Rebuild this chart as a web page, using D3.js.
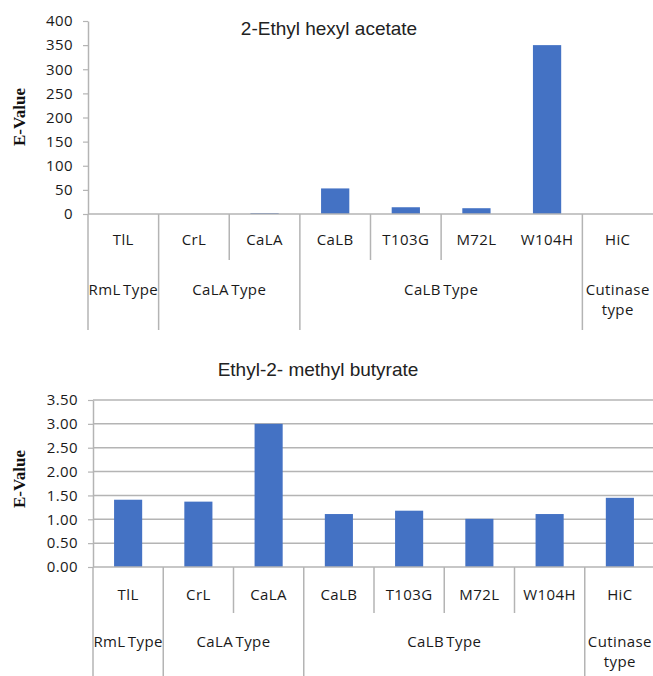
<!DOCTYPE html>
<html>
<head>
<meta charset="utf-8">
<script src="https://cdn.jsdelivr.net/npm/d3@7"></script>
<style>
  body { margin: 0; background: #fff; }
</style>
</head>
<body>
<div id="canvas"></div>
<script>
"use strict"

/* Data */
let enzymes = ["TlL", "CrL", "CaLA", "CaLB", "T103G", "M72L", "W104H", "HiC"];
let enzymeTypes = ["RmL Type", "CaLA Type", "CaLA Type", "CaLB Type",
                   "CaLB Type", "CaLB Type", "CaLB Type", "Cutinase type"];

let hexylAcetateE = [0, 0, 2, 53, 14, 12, 350, 0];
let methylButyrateE = [1.41, 1.37, 3.00, 1.11, 1.18, 1.01, 1.11, 1.45];

let hexylTicks = [0, 50, 100, 150, 200, 250, 300, 350, 400];
let butyrateTicks = [0, 0.5, 1.0, 1.5, 2.0, 2.5, 3.0, 3.5];

/* Drawing configuration */
let svgWidth = 653;
let svgHeight = 676;
let barColor = "#4472c4";
let lineColor = "#b4b4b4";
let labelFont = "'Open Sans', 'Noto Sans', sans-serif";
let labelSize = "15px";
let labelSpacing = "0.4px";

let svg = d3.select("#canvas")
  .append("svg")
  .attr("width", svgWidth)
  .attr("height", svgHeight);

function styleLabel(sel) {
  sel.style("font-family", labelFont)
    .style("font-size", labelSize)
    .style("letter-spacing", labelSpacing)
    .style("fill", "#1a1a1a");
}

function drawPanel(p) {
  let g = svg.append("g");

  let x = d3.scaleBand()
    .domain(p.categories)
    .range([p.left, p.right])
    .padding(0);

  let y = d3.scaleLinear()
    .domain([0, d3.max(p.ticks)])
    .range([p.bottom, p.top]);

  // title
  g.append("text")
    .attr("x", p.titleX)
    .attr("y", p.titleY)
    .attr("text-anchor", "middle")
    .style("font-family", "'Liberation Sans', Arial, sans-serif")
    .style("font-size", "19px")
    .style("fill", "#222")
    .text(p.title);

  // horizontal gridlines (bottom panel only)
  if (p.grid) {
    g.selectAll(".grid")
      .data(p.ticks.filter(function (t) { return t > 0; }))
      .enter()
      .append("line")
      .attr("x1", p.left)
      .attr("x2", p.right)
      .attr("y1", function (d) { return y(d); })
      .attr("y2", function (d) { return y(d); })
      .attr("stroke", lineColor)
      .attr("stroke-width", 1.5);
  }

  // y axis
  let yAxis = g.append("g")
    .attr("transform", "translate(" + p.left + ",0)")
    .call(d3.axisLeft(y)
      .tickValues(p.ticks)
      .tickFormat(d3.format(p.format))
      .tickSize(5)
      .tickSizeOuter(0)
      .tickPadding(10));
  yAxis.select(".domain").attr("stroke", lineColor).attr("stroke-width", 1.5);
  yAxis.selectAll(".tick line").attr("stroke", lineColor).attr("stroke-width", 1.2);
  yAxis.selectAll(".tick text").call(styleLabel);

  // bars
  g.selectAll(".bar")
    .data(p.values)
    .enter()
    .append("rect")
    .attr("x", function (d, i) { return x(p.categories[i]) + x.bandwidth() * 0.3; })
    .attr("width", x.bandwidth() * 0.4)
    .attr("y", function (d) { return y(d); })
    .attr("height", function (d) { return p.bottom - y(d); })
    .attr("fill", barColor);

  // baseline
  g.append("line")
    .attr("x1", p.left)
    .attr("x2", p.right)
    .attr("y1", p.bottom)
    .attr("y2", p.bottom)
    .attr("stroke", lineColor)
    .attr("stroke-width", 1.5);

  // category dividers: long at type boundaries, short inside a type
  for (let i = 0; i < p.categories.length; i = i + 1) {
    let xi = x(p.categories[i]);
    let isGroupEdge = i === 0 || p.types[i] !== p.types[i - 1];
    if (!isGroupEdge && p.skipDivider.indexOf(i) >= 0) continue;
    g.append("line")
      .attr("x1", xi)
      .attr("x2", xi)
      .attr("y1", p.bottom)
      .attr("y2", isGroupEdge ? p.groupLineEnd : p.catLineEnd)
      .attr("stroke", lineColor)
      .attr("stroke-width", 1.5);
  }

  // category labels
  g.selectAll(".cat")
    .data(p.categories)
    .enter()
    .append("text")
    .attr("x", function (d) { return x(d) + x.bandwidth() / 2; })
    .attr("y", p.catLabelY)
    .attr("text-anchor", "middle")
    .call(styleLabel)
    .text(function (d) { return d; });

  // type (group) labels, wrapped when clearly wider than the span
  let spans = [];
  p.types.forEach(function (t, i) {
    if (i === 0 || t !== p.types[i - 1]) spans.push({ name: t, first: i, last: i });
    else spans[spans.length - 1].last = i;
  });
  spans.forEach(function (s) {
    let x0 = x(p.categories[s.first]);
    let x1 = x(p.categories[s.last]) + x.bandwidth();
    let cx = (x0 + x1) / 2;
    let t = g.append("text")
      .attr("x", cx)
      .attr("y", p.typeLabelY)
      .attr("text-anchor", "middle")
      .call(styleLabel)
      .style("word-spacing", "-2px")
      .text(s.name);
    if (t.node().getComputedTextLength() > (x1 - x0) + 10) {
      let words = s.name.split(" ");
      t.text(null);
      words.forEach(function (w, k) {
        t.append("tspan")
          .attr("x", cx)
          .attr("dy", k === 0 ? 0 : 20)
          .text(w);
      });
    }
  });

  // y axis title
  g.append("text")
    .attr("transform", "translate(" + p.yTitleX + "," + p.yTitleY + ") rotate(-90)")
    .attr("text-anchor", "middle")
    .style("font-family", "'Liberation Serif', 'Times New Roman', serif")
    .style("font-weight", "bold")
    .style("font-size", "17px")
    .style("fill", "#111")
    .text("E-Value");
}

/* Top panel: 2-Ethyl hexyl acetate */
drawPanel({
  title: "2-Ethyl hexyl acetate",
  titleX: 329, titleY: 35,
  categories: enzymes, types: enzymeTypes, values: hexylAcetateE,
  ticks: hexylTicks, format: "d", grid: false,
  left: 88, right: 653, top: 21, bottom: 214,
  catLineEnd: 260, groupLineEnd: 330, skipDivider: [6],
  catLabelY: 245, typeLabelY: 295,
  yTitleX: 25, yTitleY: 117
});

/* Bottom panel: Ethyl-2- methyl butyrate */
drawPanel({
  title: "Ethyl-2- methyl butyrate",
  titleX: 318, titleY: 376,
  categories: enzymes, types: enzymeTypes, values: methylButyrateE,
  ticks: butyrateTicks, format: ".2f", grid: true,
  left: 93, right: 655, top: 400, bottom: 567,
  catLineEnd: 613, groupLineEnd: 676, skipDivider: [],
  catLabelY: 600, typeLabelY: 647,
  yTitleX: 25, yTitleY: 479
});
</script>
</body>
</html>
